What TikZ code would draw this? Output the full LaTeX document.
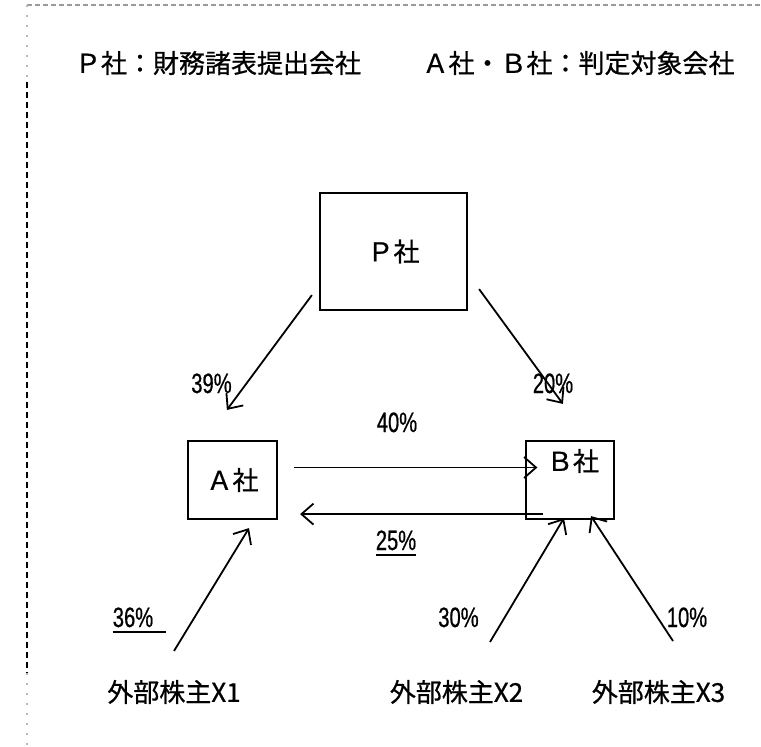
\documentclass[tikz,border=0pt]{standalone}
\usepackage{fontspec}
\newfontfamily\jp[FakeBold=0.8]{Noto Sans CJK JP}
\newfontfamily\pc[FakeStretch=0.72,FakeBold=0.6]{Liberation Sans}
\usetikzlibrary{arrows.meta,calc}
\begin{document}
\begin{tikzpicture}[x=1pt,y=-1pt,
  box/.style={draw, line width=2.2pt, inner sep=0pt, font=\jp\fontsize{26}{30}\selectfont},
  jtext/.style={font=\jp\fontsize{26}{30}\selectfont, inner sep=0pt},
  pct/.style={font=\pc\fontsize{28}{32}\selectfont, inner sep=0pt, anchor=base},
  arr/.style={line width=1.8pt, -{Straight Barb[length=12pt,width=21pt,line width=1.8pt]}},
  uline/.style={line width=2pt},
  frgray/.style={gray!55, line width=1.6pt, dash pattern=on 2pt off 8pt},
]
\useasboundingbox (0,0) rectangle (761,747);
% frame
\draw[gray!80, line width=1.6pt, dash pattern=on 5pt off 3pt] (27,5) -- (761,5);
\draw[frgray] (27,5) -- (27,82);
\draw[black, line width=2.4pt, dash pattern=on 6pt off 4pt] (27,82) -- (27,673);
\draw[frgray] (27,673) -- (27,747);
% header
\node[jtext] (h1) at (218,63) {Ｐ社：財務諸表提出会社};
\node[jtext] (h2) at (578.5,63) {Ａ社・Ｂ社：判定対象会社};
% boxes
\node[box, minimum width=147pt, minimum height=117pt] (P) at (393.5,251.5) {Ｐ社};
\node[box, minimum width=89pt, minimum height=78pt] (A) at (232.5,480) {Ａ社};
\node[box, minimum width=88pt, minimum height=78pt] (B) at (570,480) {};
\node[jtext] (Bt) at (573,461) {Ｂ社};
% shareholders
\node[jtext] (X1) at (174,692) {外部株主X1};
\node[jtext] (X2) at (456.5,692) {外部株主X2};
\node[jtext] (X3) at (658.5,692) {外部株主X3};
% arrows
\draw[arr] ($(P.south west)+(-7,-16)$) -- ($(A.north west)+(40,-30)$);
\draw[arr] ($(P.south east)+(11,-22)$) -- ($(B.north west)+(38,-36)$);
\draw[arr] ($(A.east)+(16,-12.5)$) -- ($(B.west)+(12.5,-12.5)$);
\draw[arr] ($(B.south west)+(18,-6)$) -- ($(A.south east)+(22,-6)$);
\draw[arr] ($(X1.center)+(0,-41)$) -- ($(A.south)+(16.5,8)$);
\draw[arr] ($(X2.center)+(33.5,-50)$) -- ($(B.south)+(-6,-2)$);
\draw[arr] ($(X3.center)+(14.5,-51)$) -- ($(B.south)+(21,-4)$);
% percentages
\node[pct] (p39) at (211.5,393) {39\%};
\node[pct] (p20) at (553,393) {20\%};
\node[pct] (p40) at (397,432) {40\%};
\node[pct] (p25) at (396,550) {25\%};
\node[pct] (p36) at (133,627) {36\%};
\node[pct] (p30) at (458.5,627) {30\%};
\node[pct] (p10) at (687,627) {10\%};
\draw[uline] ($(p25.base west)+(0,4.5)$) -- ($(p25.base east)+(0,4.5)$);
\draw[uline] ($(p36.base west)+(0,5)$) -- ($(p36.base east)+(13,5)$);
\end{tikzpicture}
\end{document}
